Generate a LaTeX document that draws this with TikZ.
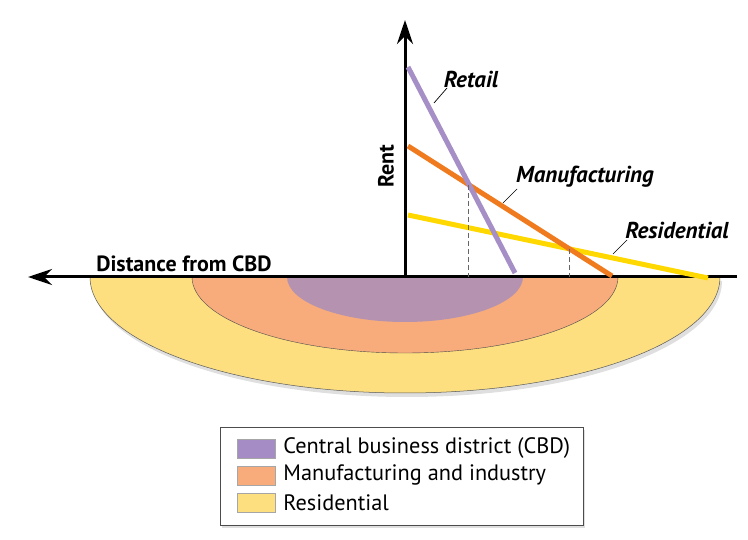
\documentclass[tikz,border=0pt]{standalone}
\usepackage{fontspec}
\setmainfont{PT Sans}
\usetikzlibrary{arrows.meta,positioning,shadows}

\definecolor{cbdzone}{HTML}{B593B0}
\definecolor{mfgzone}{HTML}{F8AC7C}
\definecolor{reszone}{HTML}{FDDF80}
\definecolor{retailline}{HTML}{A58FC6}
\definecolor{mfgline}{HTML}{F07A1E}
\definecolor{resline}{HTML}{FFD800}
\definecolor{cbdkey}{HTML}{A68CC4}

\tikzset{
  axis/.style={line width=3pt, -{Stealth[length=24pt,width=16pt,inset=8pt]}},
  rentline/.style={line width=5pt},
  leader/.style={line width=0.7pt},
  droplow/.style={gray!80!black, line width=0.6pt, dash pattern=on 5pt off 3pt},
  curvelabel/.style={font=\fontsize{23}{26}\selectfont\bfseries\itshape, inner sep=1pt},
  keybox/.style={draw=gray!70, minimum width=38pt, minimum height=19pt, inner sep=0pt},
  keytext/.style={font=\fontsize{22.3}{25}\selectfont, anchor=west, inner sep=0pt}
}

\begin{document}
\begin{tikzpicture}[x=1pt, y=-1pt]
  \useasboundingbox (0,0) rectangle (748,540);

  % Zones below the axis
  \path[fill=reszone, draw=gray!70!black, line width=0.5pt,
        drop shadow={shadow xshift=2pt, shadow yshift=-4pt, opacity=0.25}]
    (90,277) arc (180:0:315 and 116) -- cycle;
  \fill[mfgzone, draw=gray!60!black, line width=0.4pt] (192,277) arc (180:0:213 and 76) -- cycle;
  \fill[cbdzone] (287,277) arc (180:0:118 and 45) -- cycle;

  % Axes
  \coordinate (O) at (405,277);
  \coordinate (xend) at (28,277);
  \coordinate (xstart) at (737,277);
  \coordinate (ytop) at (405,20);
  \draw[axis] (xstart) -- (xend);
  \draw[axis] (O) -- (ytop);
  \node[font=\fontsize{22}{25}\selectfont\bfseries] (distlabel) at (184,264) {Distance from CBD};
  \node[font=\fontsize{22}{25}\selectfont\bfseries, rotate=90] (rentlabel) at (386,166) {Rent};

  % Bid-rent curves
  \coordinate (retailA) at (408,67);
  \coordinate (retailB) at (515,273);
  \coordinate (mfgA) at (408,146);
  \coordinate (mfgB) at (612,276);
  \coordinate (resA) at (408,215);
  \coordinate (resB) at (708,278);
  \draw[rentline, resline] (resA) -- (resB);
  \draw[rentline, mfgline] (mfgA) -- (mfgB);
  \draw[rentline, retailline] (retailA) -- (retailB);

  % Drop lines from the crossings
  \coordinate (cross1) at (468,185);
  \coordinate (cross1b) at (468,277);
  \coordinate (cross2) at (569,249);
  \coordinate (cross2b) at (569,277);
  \draw[droplow] (cross1) -- (cross1b);
  \draw[droplow] (cross2) -- (cross2b);

  % Curve labels
  \node[curvelabel] (retail) at (471,79) {Retail};
  \node[curvelabel] (mfg) at (585,177) {Manufacturing};
  \node[curvelabel] (res) at (677,230) {Residential};
  \coordinate (retailtip) at (434,103);
  \coordinate (mfgtip) at (503,203);
  \coordinate (restip) at (613,254);
  \draw[leader] (retailtip) -- (447,88);
  \draw[leader] (mfgtip) -- (517,189);
  \draw[leader] (restip) -- (627,240);

  % Legend
  \node[draw=gray!60!black, fill=white, minimum width=363pt, minimum height=98pt,
        drop shadow={shadow xshift=2pt, shadow yshift=-3pt, opacity=0.25}] (legend) at (401.5,476) {};
  \node[keybox, fill=cbdkey] (keycbd) at (256,448.5) {};
  \node[keybox, fill=mfgzone, below=7.5pt of keycbd] (keymfg) {};
  \node[keybox, fill=reszone, below=7.5pt of keymfg] (keyres) {};
  \node[keytext, right=8pt of keycbd] (txtcbd) {Central business district (CBD)};
  \node[keytext, right=8pt of keymfg] (txtmfg) {Manufacturing and industry};
  \node[keytext, right=8pt of keyres] (txtres) {Residential};
\end{tikzpicture}
\end{document}
